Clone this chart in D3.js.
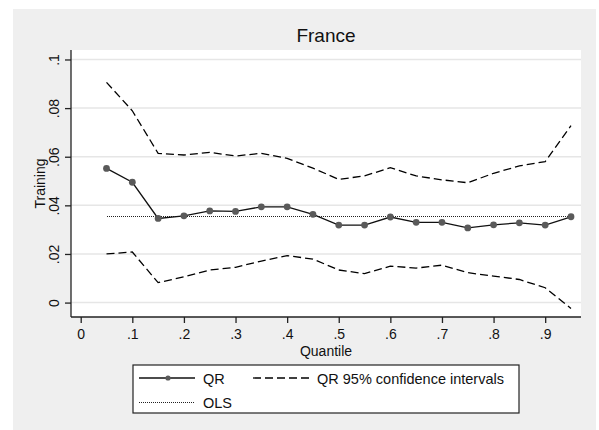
<!DOCTYPE html>
<html>
<head>
<meta charset="utf-8">
<script src="https://cdn.jsdelivr.net/npm/d3@7"></script>
<style>
  html, body { margin: 0; padding: 0; background: #ffffff; }
  svg { display: block; font-family: Arial, "Liberation Sans", sans-serif; }
</style>
</head>
<body>
<svg id="chart" width="599" height="430"></svg>
<script>
// Quantile regression estimates for France (Training coefficient)
const quantiles = [0.05, 0.10, 0.15, 0.20, 0.25, 0.30, 0.35, 0.40, 0.45, 0.50,
                   0.55, 0.60, 0.65, 0.70, 0.75, 0.80, 0.85, 0.90, 0.95];
const qrCoef = [0.0552, 0.0495, 0.0346, 0.0357, 0.0377, 0.0375, 0.0394, 0.0394, 0.0363, 0.0319,
                0.0319, 0.0352, 0.0330, 0.0330, 0.0307, 0.0320, 0.0328, 0.0319, 0.0353];
const ciUpper = [0.0906, 0.0789, 0.0614, 0.0607, 0.0618, 0.0603, 0.0614, 0.0593, 0.0553, 0.0507,
                 0.0521, 0.0555, 0.0521, 0.0505, 0.0493, 0.0532, 0.0562, 0.0580, 0.0728];
const ciLower = [0.0200, 0.0208, 0.0082, 0.0106, 0.0134, 0.0145, 0.0171, 0.0193, 0.0179, 0.0134,
                 0.0119, 0.0150, 0.0142, 0.0154, 0.0123, 0.0109, 0.0095, 0.0061, -0.0024];
const olsCoef = 0.0357;

const xTicks = [0, 0.1, 0.2, 0.3, 0.4, 0.5, 0.6, 0.7, 0.8, 0.9];
const xTickLabels = ["0", ".1", ".2", ".3", ".4", ".5", ".6", ".7", ".8", ".9"];
const yTicks = [0, 0.02, 0.04, 0.06, 0.08, 0.1];
const yTickLabels = ["0", ".02", ".04", ".06", ".08", ".1"];

const titleText = "France";
const xTitle = "Quantile";
const yTitle = "Training";
const legendLabels = ["QR", "QR 95% confidence intervals", "OLS"];

const svg = d3.select("#chart");

// outer graph region
svg.append("rect").attr("x", 13).attr("y", 9).attr("width", 583).attr("height", 421)
  .attr("fill", "#efefef");

const plot = { left: 71, right: 581, top: 50, bottom: 317 };
plot.width = plot.right - plot.left;
plot.height = plot.bottom - plot.top;

svg.append("rect").attr("x", plot.left).attr("y", plot.top)
  .attr("width", plot.width).attr("height", plot.height).attr("fill", "#ffffff");

const x = d3.scaleLinear().domain([-0.0188, 0.9694]).range([plot.left, plot.right]);
const y = d3.scaleLinear().domain([-0.00593, 0.1039]).range([plot.bottom, plot.top]);

// horizontal grid lines
svg.append("g").selectAll("line").data(yTicks).join("line")
  .attr("x1", plot.left).attr("x2", plot.right)
  .attr("y1", d => y(d)).attr("y2", d => y(d))
  .attr("stroke", "#e6e6e6").attr("stroke-width", 1.5);

// y axis
const yAxis = d3.axisLeft(y).tickValues(yTicks)
  .tickFormat((d, i) => yTickLabels[i]).tickSize(6).tickPadding(5);
const gy = svg.append("g").attr("transform", `translate(${plot.left},0)`).call(yAxis);
gy.select(".domain").attr("d", `M0,${plot.top}V${plot.bottom}`).attr("stroke", "#222").attr("stroke-width", 1.3);
gy.selectAll(".tick line").attr("stroke", "#222").attr("stroke-width", 1.3);
gy.selectAll(".tick text")
  .attr("font-size", 14).attr("fill", "#111")
  .attr("x", null).attr("dy", null)
  .attr("text-anchor", "middle")
  .attr("transform", "translate(-12,0) rotate(-90)");

// x axis
const xAxis = d3.axisBottom(x).tickValues(xTicks)
  .tickFormat((d, i) => xTickLabels[i]).tickSize(6).tickPadding(6);
const gx = svg.append("g").attr("transform", `translate(0,${plot.bottom})`).call(xAxis);
gx.select(".domain").attr("d", `M${plot.left},0H${plot.right}`).attr("stroke", "#222").attr("stroke-width", 1.3);
gx.selectAll(".tick line").attr("stroke", "#222").attr("stroke-width", 1.3);
gx.selectAll(".tick text").attr("font-size", 14).attr("fill", "#111");

// titles
svg.append("text").attr("x", 326).attr("y", 42).attr("text-anchor", "middle")
  .attr("font-size", 19).attr("fill", "#111").text(titleText);
svg.append("text").attr("x", 326).attr("y", 356).attr("text-anchor", "middle")
  .attr("font-size", 14).attr("fill", "#111").text(xTitle);
svg.append("text").attr("transform", `translate(45,${(plot.top + plot.bottom) / 2}) rotate(-90)`)
  .attr("text-anchor", "middle").attr("font-size", 14).attr("fill", "#111").text(yTitle);

const idx = d3.range(quantiles.length);
const line = arr => d3.line().x(i => x(quantiles[i])).y(i => y(arr[i]))(idx);

// confidence bands
svg.append("path").attr("d", line(ciUpper)).attr("fill", "none")
  .attr("stroke", "#000").attr("stroke-width", 1.3).attr("stroke-dasharray", "8,4");
svg.append("path").attr("d", line(ciLower)).attr("fill", "none")
  .attr("stroke", "#000").attr("stroke-width", 1.3).attr("stroke-dasharray", "8,4");

// OLS reference (dotted)
const olsY = Math.round(y(olsCoef)) + 0.5;
svg.append("line")
  .attr("x1", Math.round(x(quantiles[0]))).attr("x2", Math.round(x(quantiles[quantiles.length - 1])))
  .attr("y1", olsY).attr("y2", olsY)
  .attr("stroke", "#222").attr("stroke-width", 1).attr("stroke-dasharray", "1,1")
  .attr("shape-rendering", "crispEdges");

// QR estimates
svg.append("path").attr("d", line(qrCoef)).attr("fill", "none")
  .attr("stroke", "#111").attr("stroke-width", 1.3);
svg.append("g").selectAll("circle").data(idx).join("circle")
  .attr("cx", i => x(quantiles[i])).attr("cy", i => y(qrCoef[i]))
  .attr("r", 3.4).attr("fill", "#5a5a5a");

// legend
const lg = svg.append("g");
lg.append("rect").attr("x", 133).attr("y", 365).attr("width", 386).attr("height", 48)
  .attr("fill", "#ffffff").attr("stroke", "#222").attr("stroke-width", 1.2);
lg.append("line").attr("x1", 139).attr("x2", 195).attr("y1", 378).attr("y2", 378)
  .attr("stroke", "#111").attr("stroke-width", 1.3);
lg.append("circle").attr("cx", 168).attr("cy", 378).attr("r", 2.6).attr("fill", "#5a5a5a");
lg.append("text").attr("x", 203).attr("y", 383.5).attr("font-size", 14.5).attr("fill", "#111").text(legendLabels[0]);
lg.append("line").attr("x1", 253).attr("x2", 309).attr("y1", 378).attr("y2", 378)
  .attr("stroke", "#000").attr("stroke-width", 1.3).attr("stroke-dasharray", "8,4");
lg.append("text").attr("x", 317).attr("y", 383.5).attr("font-size", 14.5).attr("fill", "#111").text(legendLabels[1]);
lg.append("line").attr("x1", 139).attr("x2", 195).attr("y1", 402.5).attr("y2", 402.5)
  .attr("stroke", "#222").attr("stroke-width", 1).attr("stroke-dasharray", "1,1")
  .attr("shape-rendering", "crispEdges");
lg.append("text").attr("x", 203).attr("y", 407.5).attr("font-size", 14.5).attr("fill", "#111").text(legendLabels[2]);
</script>
</body>
</html>
